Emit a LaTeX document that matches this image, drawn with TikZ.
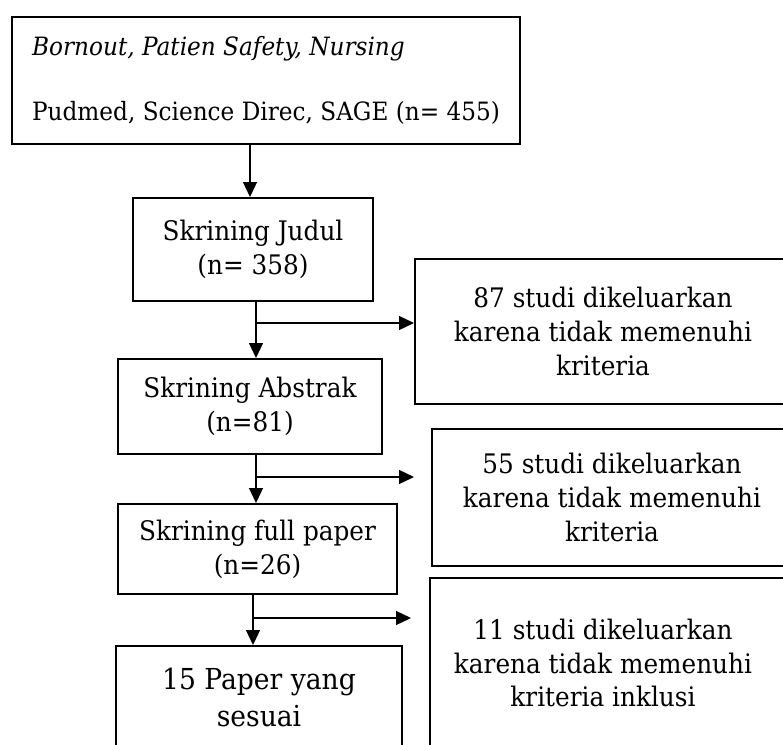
\documentclass[tikz,border=0pt]{standalone}
\usepackage{fontspec}
\setmainfont{DejaVu Serif}[FakeStretch=0.92]
\usetikzlibrary{arrows.meta}
\begin{document}
\begin{tikzpicture}[x=1bp,y=-1bp,
  box/.style={draw, line width=2bp, inner sep=0pt, align=center, anchor=north west, font=\fontsize{27}{34}\selectfont},
  txt/.style={inner sep=0pt, align=center, font=\fontsize{27}{34}\selectfont},
  arr/.style={line width=1.3bp, -{Triangle[length=15bp,width=14bp]}},
  ln/.style={line width=1.3bp}]
\useasboundingbox (0,0) rectangle (783,745);
\clip (0,0) rectangle (783,745);
\node[box, minimum width=508bp, minimum height=127bp, align=left, font=\fontsize{25.3}{34}\selectfont] (b1) at (11,16)
  {\textit{Bornout, Patien Safety, Nursing}\\[31bp]Pudmed, Science Direc, SAGE (n= 455)};
\node[box, minimum width=240bp, minimum height=103bp] (b2) at (132,197) {Skrining Judul\\(n= 358)};
\node[box, minimum width=376bp, minimum height=145bp] (b87) at (414,258) {87 studi dikeluarkan\\karena tidak memenuhi\\kriteria};
\node[box, minimum width=264bp, minimum height=95bp] (b3) at (117,358) {Skrining Abstrak\\(n=81)};
\node[box, minimum width=360bp, minimum height=137bp] (b55) at (431,428) {55 studi dikeluarkan\\karena tidak memenuhi\\kriteria};
\node[box, minimum width=279bp, minimum height=90bp] (bf) at (117,503) {Skrining full paper\\(n=26)};
\node[box, minimum width=361bp, minimum height=173bp] (b11) at (429,577) {};
\node[txt] (t11) at (603,663) {11 studi dikeluarkan\\karena tidak memenuhi\\kriteria inklusi};
\node[box, minimum width=286bp, minimum height=103bp, font=\fontsize{29}{37}\selectfont] (b15) at (115,645) {15 Paper yang\\sesuai};
\coordinate (j1) at (256,323);
\coordinate (j2) at (256,477);
\coordinate (e2) at (414,477);
\coordinate (j3) at (253,618);
\coordinate (e3) at (411,618);
\draw[arr] (b1.south -| 250,0) -- (b2.north -| 250,0);
\draw[ln] (b2.south -| j1) -- (j1);
\draw[arr] (j1) -- (b3.north -| j1);
\draw[arr] (j1) -- (b87.west |- j1);
\draw[ln] (b3.south -| j2) -- (j2);
\draw[arr] (j2) -- (bf.north -| j2);
\draw[arr] (j2) -- (e2);
\draw[ln] (bf.south -| j3) -- (j3);
\draw[arr] (j3) -- (b15.north -| j3);
\draw[arr] (j3) -- (e3);
\end{tikzpicture}
\end{document}
